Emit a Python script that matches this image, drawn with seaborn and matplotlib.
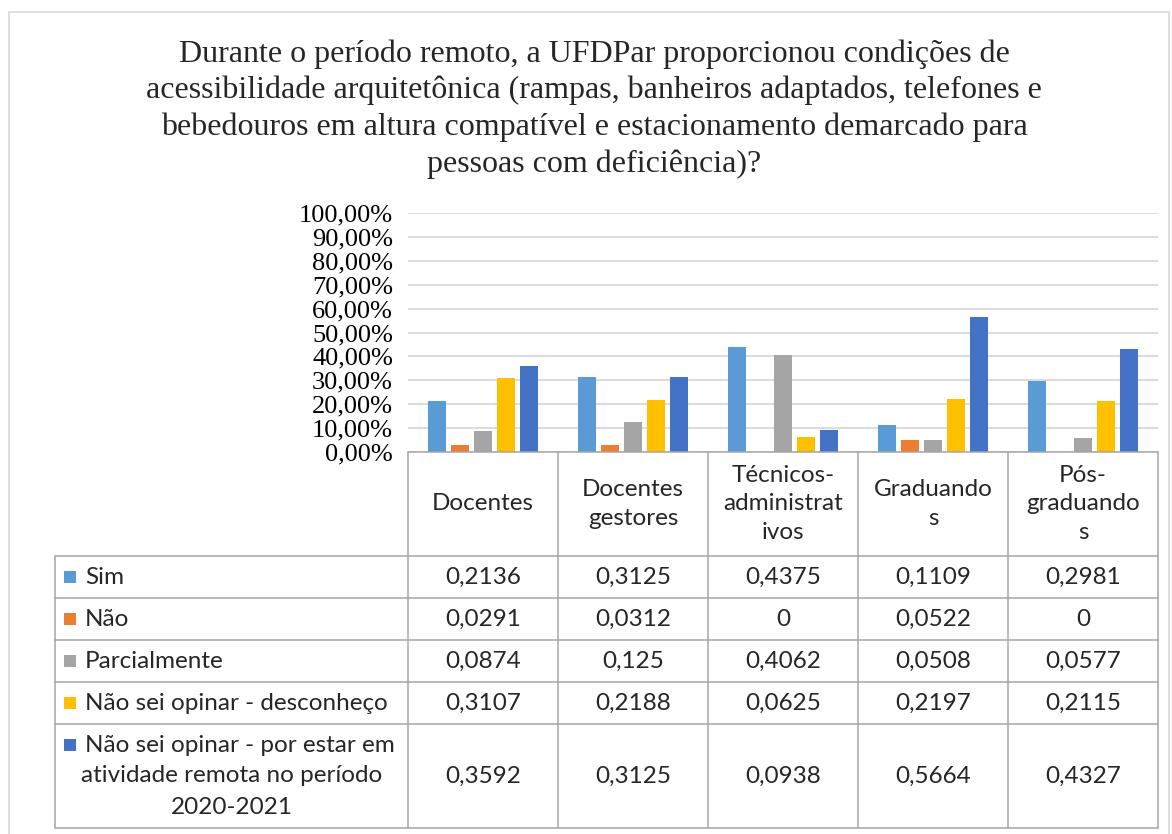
import numpy as np
import pandas as pd
import matplotlib
matplotlib.use("Agg")
import matplotlib.pyplot as plt
from matplotlib.lines import Line2D
from matplotlib.patches import Rectangle
import seaborn as sns

categories = ["Docentes", "Docentes gestores", "Técnicos-administrativos", "Graduandos", "Pós-graduandos"]
header_labels = ["Docentes", "Docentes\ngestores", "Técnicos-\nadministrat\nivos", "Graduando\ns", "Pós-\ngraduando\ns"]
series = ["Sim", "Não", "Parcialmente", "Não sei opinar - desconheço",
          "Não sei opinar - por estar em atividade remota no período 2020-2021"]
sim = [0.2136, 0.3125, 0.4375, 0.1109, 0.2981]
nao = [0.0291, 0.0312, 0.0, 0.0522, 0.0]
parcial = [0.0874, 0.125, 0.4062, 0.0508, 0.0577]
desconheco = [0.3107, 0.2188, 0.0625, 0.2197, 0.2115]
remota = [0.3592, 0.3125, 0.0938, 0.5664, 0.4327]
value_text = [
    ["0,2136", "0,3125", "0,4375", "0,1109", "0,2981"],
    ["0,0291", "0,0312", "0", "0,0522", "0"],
    ["0,0874", "0,125", "0,4062", "0,0508", "0,0577"],
    ["0,3107", "0,2188", "0,0625", "0,2197", "0,2115"],
    ["0,3592", "0,3125", "0,0938", "0,5664", "0,4327"],
]
colors = ["#5B9BD5", "#ED7D31", "#A5A5A5", "#FFC000", "#4472C4"]
title = ("Durante o período remoto, a UFDPar proporcionou condições de\n"
         "acessibilidade arquitetônica (rampas, banheiros adaptados, telefones e\n"
         "bebedouros em altura compatível e estacionamento demarcado para\n"
         "pessoas com deficiência)?")

all_vals = [sim, nao, parcial, desconheco, remota]
rows = []
for s, vals in zip(series, all_vals):
    for c, v in zip(categories, vals):
        rows.append({"cat": c, "serie": s, "val": v})
df = pd.DataFrame(rows)

W, H = 1172, 834
sns.set_theme(style="white")
fig = plt.figure(figsize=(W / 100, H / 100), dpi=100)

def fx(x):
    return x / W

def fy(y):
    return 1 - y / H

ax = fig.add_axes([fx(408), fy(452), fx(1158) - fx(408), fy(213) - fy(452)])
sns.barplot(data=df, x="cat", y="val", hue="serie", order=categories, hue_order=series,
            palette=colors, width=0.77, gap=0.2, ax=ax, legend=False, saturation=1,
            edgecolor="none", errorbar=None)
ax.set_ylim(0, 1)
ax.set_xlim(-0.5, 4.5)
ax.set_yticks(np.arange(0, 1.01, 0.1))
ax.set_yticklabels([f"{int(round(t*100))},00%" for t in np.arange(0, 1.01, 0.1)],
                   family="Liberation Serif", fontsize=19, color="#000000")
ax.tick_params(axis="y", length=0, pad=10.8)
ax.set_xticks([])
ax.set_xlabel("")
ax.set_ylabel("")
ax.grid(axis="y", color="#d9d9d9", linewidth=1.3)
ax.set_axisbelow(True)
for sp in ax.spines.values():
    sp.set_visible(False)

fig.text(fx(594), fy(109), title, ha="center", va="center", family="Liberation Serif",
         fontsize=23, linespacing=1.32)

lc = "#a6a6a6"
def hline(y, x0, x1):
    fig.add_artist(Line2D([fx(x0), fx(x1)], [fy(y), fy(y)], color=lc, lw=1.1, transform=fig.transFigure))

def vline(x, y0, y1):
    fig.add_artist(Line2D([fx(x), fx(x)], [fy(y0), fy(y1)], color=lc, lw=1.1, transform=fig.transFigure))

# outer border
fig.add_artist(Rectangle((fx(9), fy(840)), fx(1169) - fx(9), fy(12) - fy(840), fill=False,
                         edgecolor="#d9d9d9", lw=1.2, transform=fig.transFigure))

col_x = [408, 558, 708, 858, 1008, 1158]
row_y = [556, 598, 640, 682, 724, 828]
hline(452, 408, 1158)
for y in row_y:
    hline(y, 55, 1158)
vline(55, 556, 828)
for x in col_x:
    vline(x, 452, 828)

tf = "Lato"
fs = 17.5
for i, lab in enumerate(header_labels):
    cx = (col_x[i] + col_x[i + 1]) / 2
    fig.text(fx(cx), fy(504), lab, ha="center", va="center", family=tf, fontsize=fs, linespacing=1.46)

row_centers = [577, 619, 661, 703, 776]
for r in range(5):
    yc = row_centers[r]
    sq_y = yc if r < 4 else 745
    fig.add_artist(Rectangle((fx(64), fy(sq_y + 6)), fx(12), fy(0) - fy(12), color=colors[r],
                             transform=fig.transFigure, lw=0))
    if r < 4:
        fig.text(fx(85), fy(yc), series[r], ha="left", va="center", family=tf, fontsize=fs)
    else:
        fig.text(fx(85), fy(745), "Não sei opinar - por estar em", ha="left", va="center", family=tf, fontsize=fs)
        fig.text(fx(232), fy(776), "atividade remota no período", ha="center", va="center", family=tf, fontsize=fs)
        fig.text(fx(232), fy(807), "2020-2021", ha="center", va="center", family=tf, fontsize=fs)
    for c in range(5):
        cx = (col_x[c] + col_x[c + 1]) / 2
        fig.text(fx(cx), fy(yc), value_text[r][c], ha="center", va="center", family=tf, fontsize=fs)

fig.savefig("out.png", dpi=100)
